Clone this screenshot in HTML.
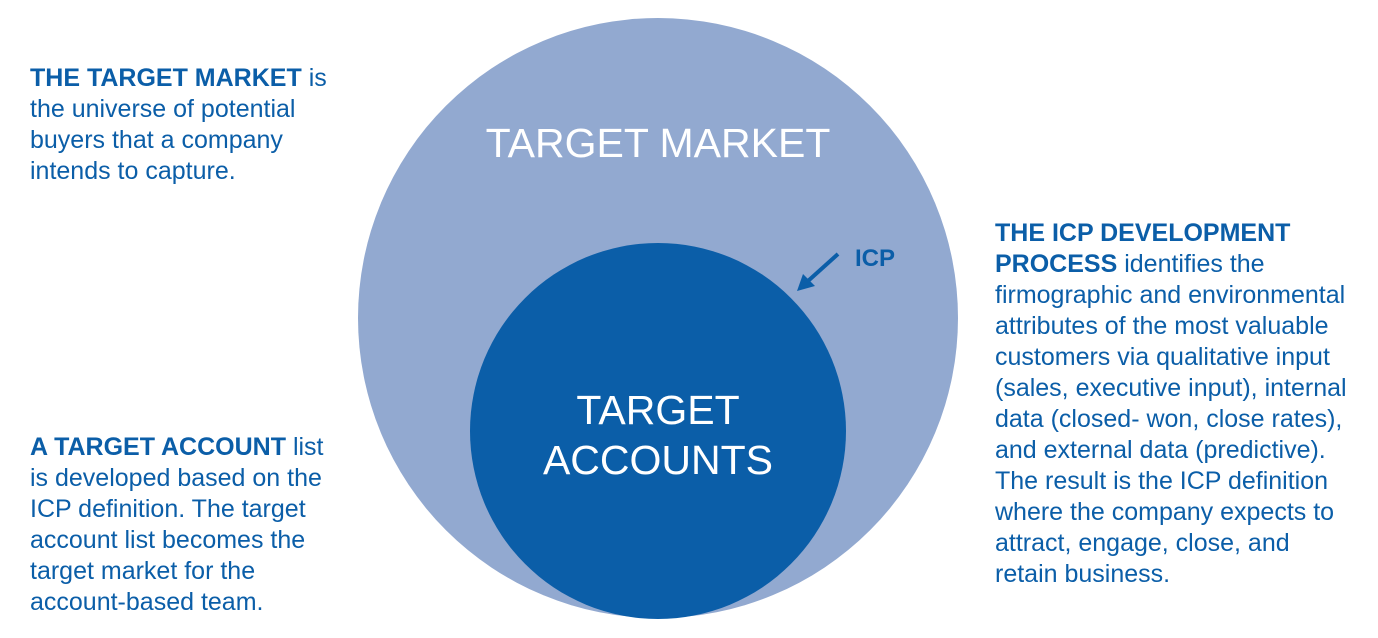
<!DOCTYPE html>
<html><head><style>
body{margin:0;width:1378px;height:638px;background:#fff;position:relative;overflow:hidden;font-family:"Liberation Sans",Arial,sans-serif;}
.t{position:absolute;color:#0b5ea8;font-size:25px;line-height:31px;white-space:nowrap;}
b{font-weight:bold;}
</style></head><body>
<svg width="1378" height="638" style="position:absolute;left:0;top:0">
<circle cx="658" cy="318" r="300" fill="#92a9d0"/>
<circle cx="658" cy="431" r="188" fill="#0b5ea8"/>
<line x1="838" y1="254" x2="808" y2="281" stroke="#0b5ea8" stroke-width="4"/>
<polygon points="797,291 803,274 815,286" fill="#0b5ea8"/>
<text x="855" y="266" font-family="Liberation Sans" font-weight="bold" font-size="24" fill="#0b5ea8">ICP</text>
<text x="658" y="157" text-anchor="middle" font-family="Liberation Sans" font-size="41" fill="#fff">TARGET MARKET</text>
<text x="658" y="424" text-anchor="middle" font-family="Liberation Sans" font-size="41" fill="#fff">TARGET</text>
<text x="658" y="474" text-anchor="middle" font-family="Liberation Sans" font-size="41" fill="#fff">ACCOUNTS</text>
</svg>
<div class="t" style="left:30px;top:63px"><b>THE TARGET MARKET</b> is<br>the universe of potential<br>buyers that a company<br>intends to capture.</div>
<div class="t" style="left:30px;top:432px"><b>A TARGET ACCOUNT</b> list<br>is developed based on the<br>ICP definition. The target<br>account list becomes the<br>target market for the<br>account-based team.</div>
<div class="t" style="left:995px;top:218px"><b>THE ICP DEVELOPMENT<br>PROCESS</b> identifies the<br>firmographic and environmental<br>attributes of the most valuable<br>customers via qualitative input<br>(sales, executive input), internal<br>data (closed- won, close rates),<br>and external data (predictive).<br>The result is the ICP definition<br>where the company expects to<br>attract, engage, close, and<br>retain business.</div>
</body></html>
